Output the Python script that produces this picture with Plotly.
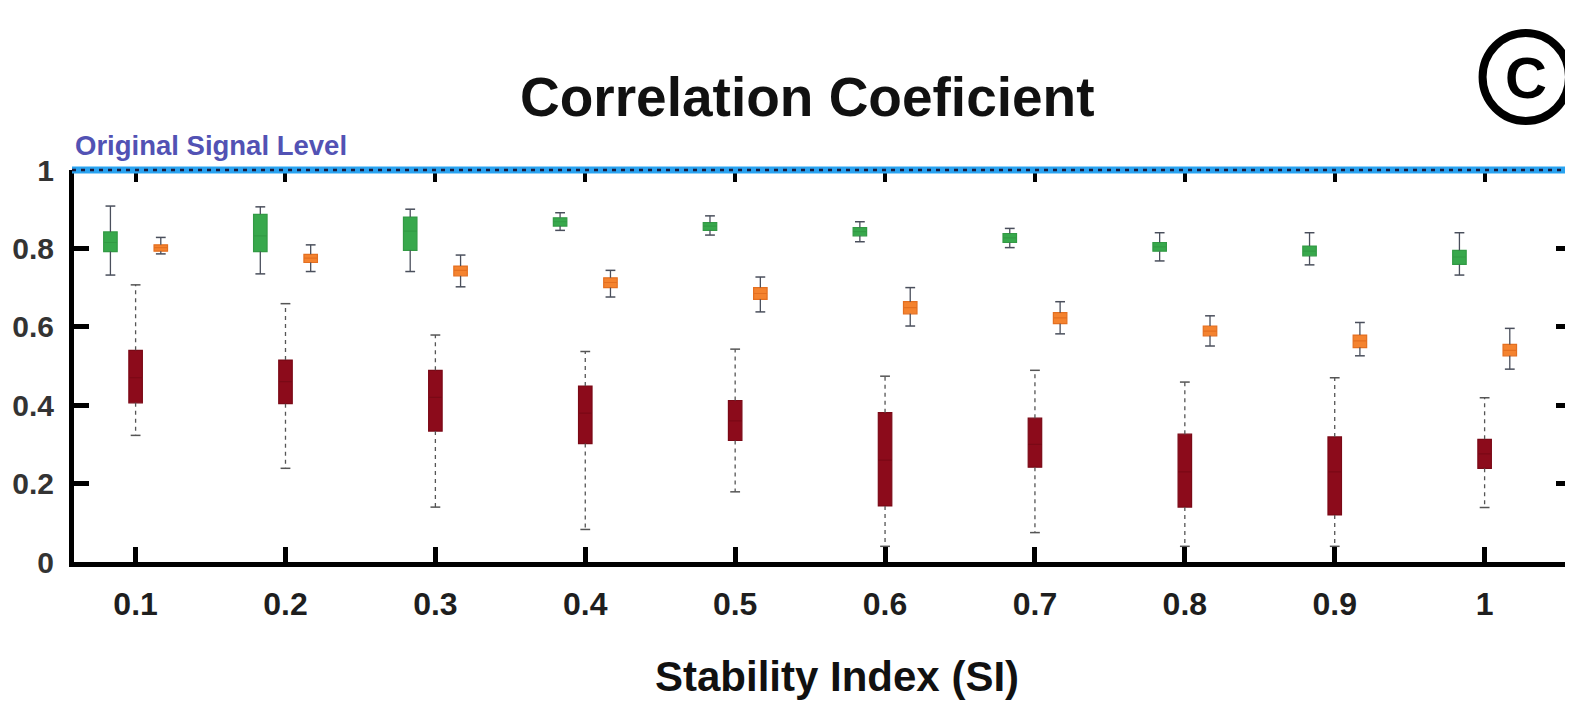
import plotly.graph_objects as go

# ---------------- data ----------------
si = [0.1, 0.2, 0.3, 0.4, 0.5, 0.6, 0.7, 0.8, 0.9, 1.0]
x_tick_labels = ["0.1", "0.2", "0.3", "0.4", "0.5", "0.6", "0.7", "0.8", "0.9", "1"]
y_tick_vals = [0, 0.2, 0.4, 0.6, 0.8, 1]
y_tick_labels = ["0", "0.2", "0.4", "0.6", "0.8", "1"]

green_upper = [0.908, 0.906, 0.900, 0.891, 0.883, 0.868, 0.851, 0.840, 0.840, 0.840]
green_q3 = [0.842, 0.887, 0.880, 0.878, 0.866, 0.853, 0.838, 0.815, 0.806, 0.795]
green_med = [0.815, 0.832, 0.844, 0.868, 0.857, 0.843, 0.827, 0.804, 0.793, 0.778]
green_q1 = [0.792, 0.792, 0.795, 0.857, 0.846, 0.832, 0.815, 0.793, 0.781, 0.759]
green_lower = [0.732, 0.735, 0.741, 0.846, 0.834, 0.817, 0.802, 0.768, 0.758, 0.732]

orange_upper = [0.828, 0.809, 0.783, 0.744, 0.727, 0.700, 0.664, 0.628, 0.611, 0.596]
orange_q3 = [0.809, 0.785, 0.755, 0.725, 0.700, 0.664, 0.636, 0.602, 0.579, 0.555]
orange_med = [0.802, 0.775, 0.744, 0.713, 0.685, 0.649, 0.623, 0.589, 0.564, 0.540]
orange_q1 = [0.793, 0.764, 0.730, 0.700, 0.670, 0.633, 0.608, 0.577, 0.547, 0.526]
orange_lower = [0.786, 0.741, 0.702, 0.676, 0.638, 0.602, 0.582, 0.551, 0.526, 0.492]

red_upper = [0.707, 0.659, 0.579, 0.537, 0.543, 0.474, 0.489, 0.459, 0.470, 0.419]
red_q3 = [0.540, 0.515, 0.489, 0.449, 0.412, 0.381, 0.367, 0.326, 0.319, 0.313]
red_med = [0.470, 0.460, 0.420, 0.380, 0.360, 0.260, 0.300, 0.230, 0.230, 0.276]
red_q1 = [0.406, 0.404, 0.334, 0.302, 0.310, 0.143, 0.242, 0.140, 0.120, 0.239]
red_lower = [0.323, 0.239, 0.140, 0.083, 0.179, 0.040, 0.075, 0.040, 0.040, 0.139]

original_signal_level = 1.0

# ---------------- styling ----------------
FONT = "Liberation Sans, Arial, Helvetica, sans-serif"
PAGE_OFF = 8                      # default body margin of the html page
W, H = 1573 - PAGE_OFF, 701 - PAGE_OFF
# plot area in page pixels: left 64, right 1569, top 170, bottom 562
PL, PR, PT, PB = 64, 1569, 170, 562
ML, MT = PL - PAGE_OFF, PT - PAGE_OFF
MR = W - (PR - PAGE_OFF)
MB = H - (PB - PAGE_OFF)
X_RANGE = [0.0589, 1.0563]
OFFSET = 0.0168
BOX_W = 0.009


def px(xp):
    """page x pixel -> paper coordinate"""
    return (xp - PL) / (PR - PL)


def py(yp):
    """page y pixel -> paper coordinate"""
    return (PB - yp) / (PB - PT)


series = [
    ("green", -OFFSET, green_lower, green_q1, green_med, green_q3, green_upper,
     "#38a84c", "#329a44", "#4a4f5c", "solid"),
    ("red", 0.0, red_lower, red_q1, red_med, red_q3, red_upper,
     "#8c0b1b", "#7a0916", "#555555", "4px,4px"),
    ("orange", OFFSET, orange_lower, orange_q1, orange_med, orange_q3, orange_upper,
     "#f4832f", "#e46f20", "#4a4f5c", "solid"),
]

fig = go.Figure()

for name, off, lo, q1, med, q3, up, fill, edge, wcol, wdash in series:
    xs = [v + off for v in si]
    wx, wy = [], []
    for xi, a, b, c, d in zip(xs, q3, up, q1, lo):
        wx += [xi, xi, None, xi, xi, None]
        wy += [a, b, None, c, d, None]
    fig.add_trace(go.Scatter(x=wx, y=wy, mode="lines",
                             line=dict(color=wcol, width=1.3, dash=wdash),
                             hoverinfo="skip", showlegend=False))
    fig.add_trace(go.Scatter(x=xs + xs, y=list(up) + list(lo), mode="markers",
                             marker=dict(symbol="line-ew", size=7,
                                         line=dict(color=wcol, width=1.5)),
                             hoverinfo="skip", showlegend=False))
    fig.add_trace(go.Box(x=xs, q1=q1, median=med, q3=q3,
                         lowerfence=q1, upperfence=q3,
                         width=BOX_W, whiskerwidth=0,
                         fillcolor=fill, line=dict(color=edge, width=1.2),
                         name=name, showlegend=False, boxpoints=False))

# dummy trace to realise mirrored axes (top / right)
fig.add_trace(go.Scatter(x=[None], y=[None], xaxis="x2", yaxis="y2",
                         showlegend=False, hoverinfo="skip"))

tickfont_x = dict(family=FONT, size=32, color="#1e1e1e", weight="bold")
tickfont_y = dict(family=FONT, size=30, color="#333333", weight="bold")

fig.update_layout(
    width=W, height=H,
    margin=dict(l=ML, r=MR, t=MT, b=MB),
    paper_bgcolor="white", plot_bgcolor="white",
    showlegend=False,
    boxmode="overlay",
    xaxis=dict(range=X_RANGE, tickvals=si, ticktext=x_tick_labels,
               showgrid=False, zeroline=False,
               showline=True, linecolor="black", linewidth=5,
               ticks="inside", ticklen=15, tickwidth=5, tickcolor="black",
               tickfont=tickfont_x, ticklabelstandoff=10),
    yaxis=dict(range=[0, 1], tickvals=y_tick_vals, ticktext=y_tick_labels,
               showgrid=False, zeroline=False,
               showline=True, linecolor="black", linewidth=5,
               ticks="inside", ticklen=15, tickwidth=5, tickcolor="black",
               tickfont=tickfont_y, ticklabelstandoff=9),
    xaxis2=dict(overlaying="x", side="top", anchor="y", range=X_RANGE,
                tickvals=si, showticklabels=False, showgrid=False,
                zeroline=False, showline=False,
                ticks="inside", ticklen=12, tickwidth=4, tickcolor="black"),
    yaxis2=dict(overlaying="y", side="right", anchor="x", range=[0, 1],
                tickvals=y_tick_vals, showticklabels=False, showgrid=False,
                zeroline=False, showline=True, linecolor="#777777", linewidth=1.5,
                ticks="inside", ticklen=13, tickwidth=5, tickcolor="black"),
)

# Original signal level line (at top of plot)
fig.add_shape(type="line", xref="paper", yref="paper", x0=px(62), x1=px(1580),
              y0=original_signal_level, y1=original_signal_level,
              line=dict(color="#2aa3f0", width=7), layer="above")
fig.add_shape(type="line", xref="paper", yref="paper", x0=px(62), x1=px(1580),
              y0=original_signal_level, y1=original_signal_level,
              line=dict(color="#1a1a3a", width=2.5, dash="4px,5px"), layer="above")

# Texts
fig.add_annotation(text="<b>Correlation Coeficient</b>", xref="paper", yref="paper",
                   x=px(802), y=py(97), xanchor="center", yanchor="middle",
                   showarrow=False, font=dict(family=FONT, size=55, color="#111111"))
fig.add_annotation(text="<b>Stability Index (SI)</b>", xref="paper", yref="paper",
                   x=px(832), y=py(676), xanchor="center", yanchor="middle",
                   showarrow=False, font=dict(family=FONT, size=42, color="#111111"))
fig.add_annotation(text="<b>Original Signal Level</b>", xref="paper", yref="paper",
                   x=px(63), y=py(146), xanchor="left", yanchor="middle",
                   showarrow=False, font=dict(family=FONT, size=27.5, color="#5252b4"))

# circled C mark
fig.add_shape(type="circle", xref="paper", yref="paper",
              x0=px(1482), x1=px(1569), y0=py(121), y1=py(33),
              line=dict(color="black", width=8))
fig.add_annotation(text="<b>C</b>", xref="paper", yref="paper",
                   x=px(1526), y=py(77), xanchor="center", yanchor="middle",
                   showarrow=False, font=dict(family=FONT, size=58, color="black"))

fig.write_html("out.html")
